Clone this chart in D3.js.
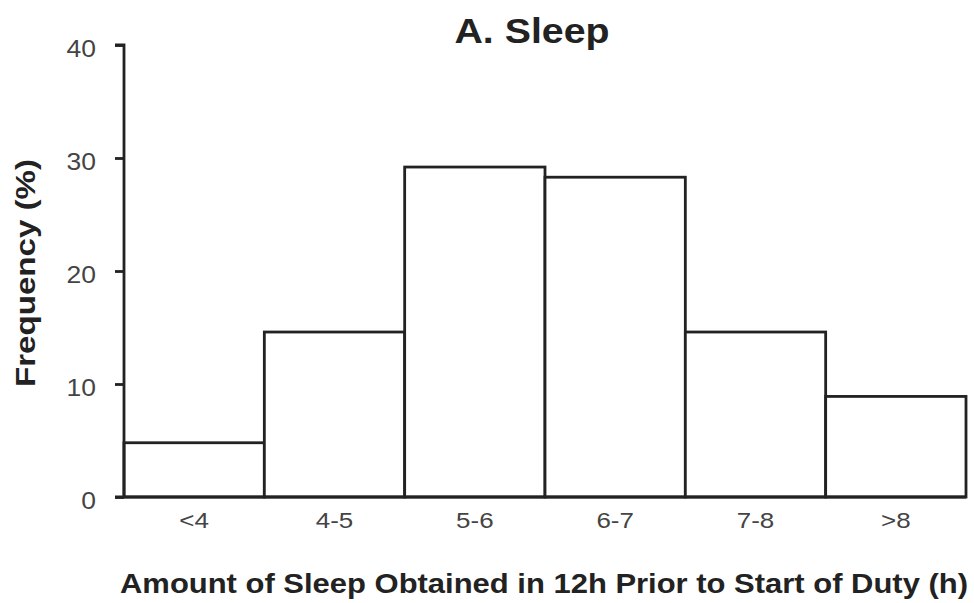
<!DOCTYPE html>
<html>
<head>
<meta charset="utf-8">
<script src="https://cdn.jsdelivr.net/npm/d3@7"></script>
<style>
  body { margin: 0; background: #fff; }
  text { font-family: "Liberation Sans", Arial, sans-serif; }
</style>
</head>
<body>
<div id="chart"></div>
<script>
// data
let categories = ["<4", "4-5", "5-6", "6-7", "7-8", ">8"];
let frequency = [4.8, 14.6, 29.2, 28.3, 14.6, 8.9];
let yTicks = [0, 10, 20, 30, 40];

let W = 974, H = 603;
let margin = {top: 45, right: 8, bottom: 106, left: 124};
let width = W - margin.left - margin.right,
    height = H - margin.top - margin.bottom;

let ink = "#222";
let tickLen = 9;

let svg = d3.select("#chart")
    .append("svg")
    .attr("width", W)
    .attr("height", H);

let g = svg.append("g")
    .attr("transform", "translate(" + margin.left + "," + margin.top + ")");

let x = d3.scaleBand()
    .domain(categories)
    .range([0, width])
    .padding(0);

let y = d3.scaleLinear()
    .domain([0, 40])
    .range([height, 0]);

// the original's lettering is wider than Arial, so stretch it a bit
function widen(sel, k) {
    sel.each(function() {
        let len = this.getComputedTextLength();
        d3.select(this)
            .attr("textLength", len * k)
            .attr("lengthAdjust", "spacingAndGlyphs");
    });
}

// bars
g.selectAll("rect.bar")
    .data(categories)
    .enter()
    .append("rect")
    .attr("class", "bar")
    .attr("x", d => x(d))
    .attr("y", (d, i) => y(frequency[i]))
    .attr("width", x.bandwidth())
    .attr("height", (d, i) => height - y(frequency[i]))
    .attr("fill", "#fff")
    .attr("stroke", ink)
    .attr("stroke-width", 2.8);

// y axis
let yAxis = g.append("g")
    .call(d3.axisLeft(y).tickValues(yTicks).tickSize(tickLen).tickPadding(19));
yAxis.select(".domain").attr("stroke", ink).attr("stroke-width", 2.8)
    .attr("d", "M0," + height + "V0H-" + tickLen);
yAxis.selectAll(".tick line").attr("stroke", ink).attr("stroke-width", 2.8);
yAxis.selectAll(".tick text")
    .attr("fill", "#444")
    .attr("dy", "0.5em")
    .style("font-size", "23px")
    .call(widen, 1.15);

// x axis (baseline and labels only)
let xAxis = g.append("g")
    .attr("transform", "translate(0," + height + ")")
    .call(d3.axisBottom(x).tickSize(0).tickPadding(15));
xAxis.select(".domain").attr("stroke", ink).attr("stroke-width", 2.8)
    .attr("d", "M-" + tickLen + ",0H" + width);
xAxis.selectAll(".tick text")
    .attr("fill", "#444")
    .style("font-size", "22px")
    .call(widen, 1.18);

// title
svg.append("text")
    .attr("x", 532)
    .attr("y", 43)
    .attr("text-anchor", "middle")
    .attr("fill", ink)
    .style("font-size", "35px")
    .style("font-weight", "bold")
    .text("A. Sleep")
    .attr("textLength", 155)
    .attr("lengthAdjust", "spacingAndGlyphs");

// axis labels
svg.append("text")
    .attr("transform", "translate(35,273) rotate(-90)")
    .attr("text-anchor", "middle")
    .attr("fill", ink)
    .style("font-size", "27px")
    .style("font-weight", "bold")
    .text("Frequency (%)")
    .attr("textLength", 228)
    .attr("lengthAdjust", "spacingAndGlyphs");

svg.append("text")
    .attr("x", 544)
    .attr("y", 593)
    .attr("text-anchor", "middle")
    .attr("fill", ink)
    .style("font-size", "28px")
    .style("font-weight", "bold")
    .text("Amount of Sleep Obtained in 12h Prior to Start of Duty (h)")
    .attr("textLength", 848)
    .attr("lengthAdjust", "spacingAndGlyphs");
</script>
</body>
</html>
